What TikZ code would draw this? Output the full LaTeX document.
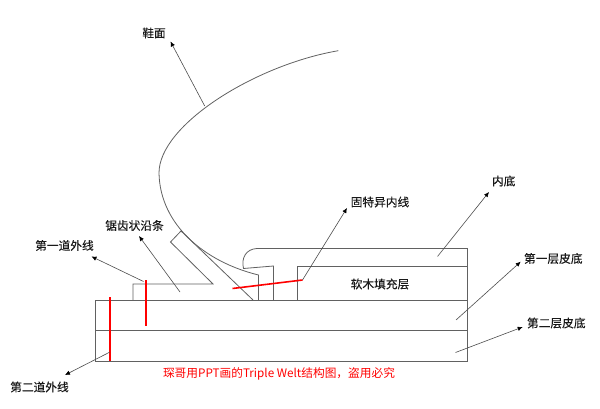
\documentclass[tikz,border=0pt]{standalone}
\usepackage{fontspec}
\setmainfont{Noto Sans CJK SC}
\newfontfamily\labelfont[FakeBold=0.25]{Noto Sans CJK SC}
\usetikzlibrary{arrows.meta}

\begin{document}
\begin{tikzpicture}[
    x=1pt, y=-1pt,
    part/.style={draw=black!62, line width=0.8pt},
    callout/.style={-{Latex[length=5pt,width=4.5pt,black]}, draw=black!70, line width=0.6pt},
    stitch/.style={draw=red, line width=1.6pt},
    label/.style={font=\labelfont\fontsize{11.7}{13}\selectfont, text=black!90, inner sep=0pt},
    note/.style={font=\fontsize{11.7}{13}\selectfont, text=red, inner sep=0pt}
]
\useasboundingbox (0,0) rectangle (600,409);

% Sole layers
\draw[part] (95.5,300) rectangle (467.5,361);
\draw[part] (95.5,330.5) -- (467.5,330.5);

% Welt strip
\draw[part] (133,300) -- (133,284) -- (213,284) -- (170.5,242) -- (181,231) -- (253,300);

% Upper
\draw[part] (338.3,50.7) .. controls (255,65) and (159,125) .. (159,173)
    .. controls (160,225) and (205,262) .. (258.5,275) -- (258.5,300);

% Insole and cork
\draw[part] (273.5,300) -- (273.5,266) -- (243.5,268.5) .. controls (241,258) and (246,249) .. (257,248.5)
    -- (467.5,248.5) -- (467.5,300);
\draw[part] (297,300) -- (297,266) -- (467.5,266);

% Stitches
\coordinate (upperend) at (204.7,106);
\coordinate (firstend) at (143.5,281.5);
\coordinate (weltend) at (180,292);
\coordinate (goodend) at (302.5,280);
\coordinate (insoleend) at (437.5,256.5);
\coordinate (sole1end) at (456,320);
\coordinate (sole2end) at (455.5,352.5);
\coordinate (secondend) at (110,352);

\coordinate (uppertip) at (170.5,41.5);
\coordinate (firsttip) at (91.5,256.5);
\coordinate (welttip) at (139,236);
\coordinate (goodtip) at (347,208);
\coordinate (insoletip) at (489,192);
\coordinate (sole1tip) at (520.7,261.7);
\coordinate (sole2tip) at (522.7,327);
\coordinate (secondtip) at (65,375);

\coordinate (s1a) at (146,280);
\coordinate (s1b) at (146,326);
\coordinate (s2a) at (110,297);
\coordinate (s2b) at (110,361);
\coordinate (s3a) at (232.5,288.5);
\draw[stitch] (s1a) -- (s1b);
\draw[stitch] (s2a) -- (s2b);
\draw[stitch] (s3a) -- (goodend);

% Labels
\node[label] (upper) at (154,33) {鞋面};
\node[label] (welt) at (134.5,225.5) {锯齿状沿条};
\node[label] (first) at (64.5,245.5) {第一道外线};
\node[label] (good) at (380,202) {固特异内线};
\node[label] (insole) at (503.7,181) {内底};
\node[label] (sole1) at (553.3,258.5) {第一层皮底};
\node[label] (sole2) at (556.3,323) {第二层皮底};
\node[label] (second) at (39.5,387) {第二道外线};
\node[label] (cork) at (380,284) {软木填充层};
\node[note] (title) at (279,373.5) {琛哥用PPT画的Triple Welt结构图，盗用必究};

% Callouts
\draw[callout] (upperend) -- (uppertip);
\draw[callout] (firstend) -- (firsttip);
\draw[callout] (weltend) -- (welttip);
\draw[callout] (goodend) -- (goodtip);
\draw[callout] (insoleend) -- (insoletip);
\draw[callout] (sole1end) -- (sole1tip);
\draw[callout] (sole2end) -- (sole2tip);
\draw[callout] (secondend) -- (secondtip);

\end{tikzpicture}
\end{document}
